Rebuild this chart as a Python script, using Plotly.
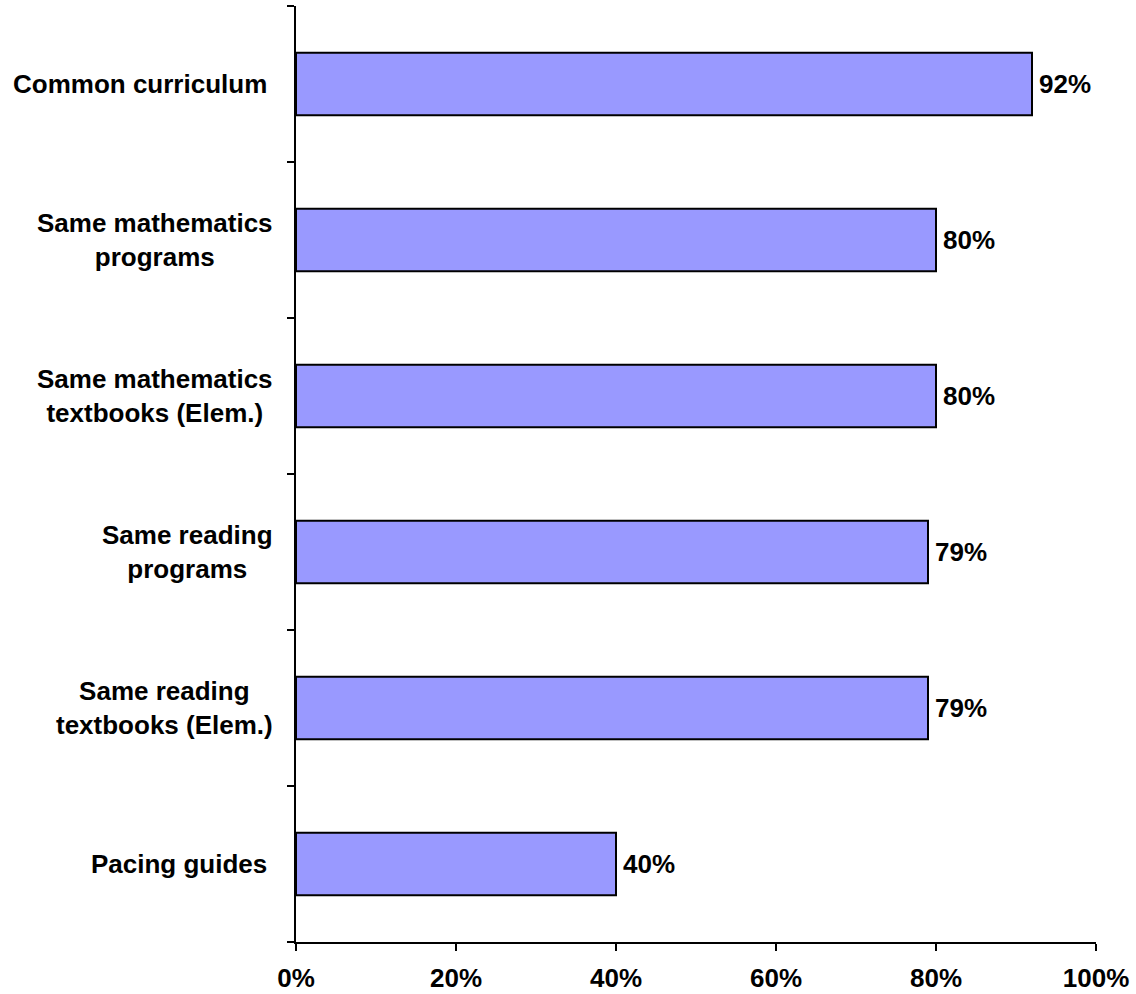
import plotly.graph_objects as go

# Share of respondents reporting each practice
categories = [
    "Common curriculum",
    "Same mathematics<br>programs",
    "Same mathematics<br>textbooks (Elem.)",
    "Same reading<br>programs",
    "Same reading<br>textbooks (Elem.)",
    "Pacing guides",
]
values = [92, 80, 80, 79, 79, 40]
x_ticks = [0, 20, 40, 60, 80, 100]

FONT = "Liberation Sans, Arial, sans-serif"
SIZE = 26

fig = go.Figure(
    go.Bar(
        x=values,
        y=categories,
        orientation="h",
        marker=dict(color="#9999FF", line=dict(color="black", width=2)),
        hoverinfo="skip",
    )
)

annotations = []
# Category labels, centred line by line, to the left of the axis
for c in categories:
    single = "<br>" not in c
    annotations.append(dict(
        x=0, xref="paper", y=c, yref="y",
        text=f"<b>{c}</b>", showarrow=False,
        xanchor="right", xshift=-27 if single else -21, align="center",
        font=dict(family=FONT, size=SIZE, color="black"),
    ))
# Value labels just past the end of each bar
for c, v in zip(categories, values):
    annotations.append(dict(
        x=v, xref="x", y=c, yref="y",
        text=f"<b>{v}%</b>", showarrow=False,
        xanchor="left", xshift=5,
        font=dict(family=FONT, size=SIZE, color="black"),
    ))

fig.update_layout(
    width=1136, height=994,
    margin=dict(l=296, r=40, t=6, b=52),
    paper_bgcolor="white", plot_bgcolor="white",
    bargap=0.6,
    showlegend=False,
    font=dict(family=FONT, size=SIZE, color="black"),
    annotations=annotations,
)

fig.update_xaxes(
    range=[0, 100], tickvals=x_ticks,
    ticktext=[f"<b>{t}%</b>" for t in x_ticks],
    showgrid=False, zeroline=False, automargin=False,
    showline=True, linecolor="black", linewidth=2,
    ticks="outside", ticklen=7, tickwidth=2, tickcolor="black",
    ticklabelstandoff=5,
    tickfont=dict(family=FONT, size=SIZE, color="black"),
)
fig.update_yaxes(
    categoryorder="array", categoryarray=categories[::-1],
    showticklabels=False, showgrid=False, zeroline=False, automargin=False,
    showline=True, linecolor="black", linewidth=2,
    ticks="outside", tickson="boundaries", ticklen=7, tickwidth=2, tickcolor="black",
)

fig.write_html("out.html")
